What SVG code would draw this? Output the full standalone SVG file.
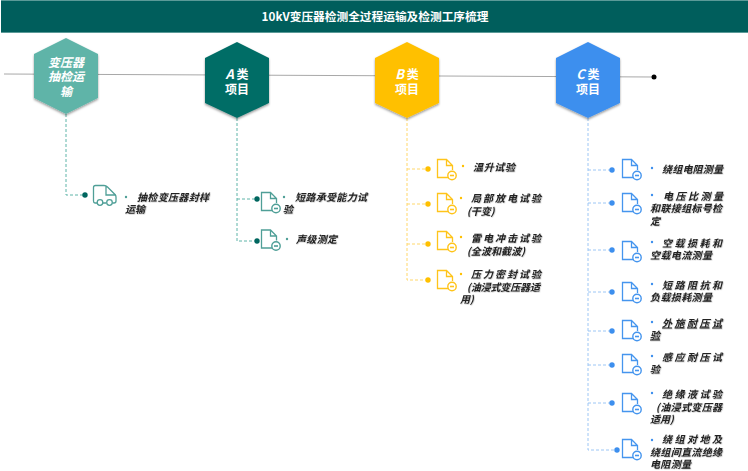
<svg xmlns="http://www.w3.org/2000/svg" width="748" height="471" viewBox="0 0 748 471">
<style>
text{font-family:"Noto Sans CJK SC","Noto Sans",sans-serif}
.t{font-size:10px;font-style:italic;font-weight:700;fill:#222;filter:url(#ts)}
.h{font-size:12px;font-weight:700;fill:#fff;text-anchor:middle}
.hi{font-style:italic}
.dash{fill:none;stroke-width:1;stroke-dasharray:3 2}
.icon{fill:none;stroke:currentColor;stroke-width:1.300}
</style>
<defs>
<filter id="sh" x="-20%" y="-20%" width="140%" height="140%"><feDropShadow dx="0" dy="1.500" stdDeviation="1.200" flood-color="#000" flood-opacity=".4"/></filter>
<filter id="ts" x="-5%" y="-20%" width="110%" height="150%"><feDropShadow dx="0.500" dy="0.500" stdDeviation="0.400" flood-color="#000" flood-opacity=".3"/></filter>
<g id="doc">
<path class="icon" d="M12 18.500H.5V.5H9.500L15.500 6.500V11M9.500 .5V6.500H15.500"/>
<circle cx="15" cy="16.500" r="4.200" fill="#fff" stroke="currentColor" stroke-width="1.400"/>
<path d="M13 16.500H17" stroke="currentColor" stroke-width="1.600"/>
</g>
</defs>
<rect width="748" height="471" fill="#fff"/>
<g id="header">
<rect x="1" y="0" width="747" height="33" fill="#005e5c"/>
<rect x="1" y="0" width="747" height="1" fill="#5b9a98"/>
<rect x="1" y="32" width="747" height="1" fill="#5b9a98"/>
<text x="375" y="21" text-anchor="middle" font-size="11.700" font-weight="700" fill="#fff">10kV变压器检测全过程运输及检测工序梳理</text>
</g>
<g id="connectors">
<path d="M4 74L654 77" fill="none" stroke="#a8a8a8" stroke-width="1"/>
<circle cx="654" cy="77" r="2.500" fill="#000"/>
<path class="dash" style="stroke:#5fb4a8" d="M66 114V195H85"/>
<path class="dash" style="stroke:#5fb4a8" d="M237 118V241H257M237 199H257"/>
<path class="dash" style="stroke:#ffd76a" d="M407 118V280H428M407 169H428M407 204H428M407 244H428"/>
<path class="dash" style="stroke:#9cc6f5" d="M588 118V450H617M588 170H612M588 203H612M588 250H612M588 292H612M588 331H612M588 365H612M588 403H612"/>
</g>
<g id="hex-transport">
<polygon points="66,38 98,54 98,98 66,114 34,98 34,54" fill="#5fb4a8" filter="url(#sh)"/>
<text class="h hi" x="66" y="66.500">变压器</text>
<text class="h hi" x="66" y="81">抽检运</text>
<text class="h hi" x="66" y="95.500">输</text>
</g>
<g id="hex-a">
<polygon points="237,42 269,58 269,103 237,118 205,103 205,58" fill="#006d66" filter="url(#sh)"/>
<text class="h" x="237" y="78.500"><tspan class="hi" font-size="13">A</tspan> 类</text>
<text class="h" x="237" y="93.500">项目</text>
</g>
<g id="hex-b">
<polygon points="407,42 439,58 439,103 407,118 375,103 375,58" fill="#ffc000" filter="url(#sh)"/>
<text class="h" x="407" y="78.500"><tspan class="hi" font-size="13">B</tspan> 类</text>
<text class="h" x="407" y="93.500">项目</text>
</g>
<g id="hex-c">
<polygon points="588,42 620,58 620,103 588,118 556,103 556,58" fill="#3d8fee" filter="url(#sh)"/>
<text class="h" x="588" y="78.500"><tspan class="hi" font-size="13">C</tspan> 类</text>
<text class="h" x="588" y="93.500">项目</text>
</g>
<g id="item-transport" style="color:#4f9f97">
<circle cx="85" cy="195" r="2.700" fill="#00665f"/>
<path class="icon" d="M97 203H95Q93.500 203 93.500 201V187.500Q93.500 185.500 95.500 185.500H104Q106 185.500 107.500 187L115 194.500Q116 195.500 116 197V201Q116 203 114 203H112.500M106 203H103M106 186V195H116"/>
<circle class="icon" cx="100" cy="202.500" r="2.800"/>
<circle class="icon" cx="109.500" cy="202.500" r="2.800"/>
<circle cx="126" cy="197" r="1.200" fill="#4f9f97"/>
<text class="t" x="137" y="200.500" textLength="72">抽检变压器封样</text>
<text class="t" x="125" y="212.500">运输</text>
</g>
<g id="item-a1" style="color:#4f9f97">
<circle cx="257" cy="199" r="2.700" fill="#00665f"/>
<use href="#doc" x="261" y="192"/>
<circle cx="284" cy="197" r="1.200" fill="#4f9f97"/>
<text class="t" x="295" y="200.500" textLength="72">短路承受能力试</text>
<text class="t" x="283" y="212.500">验</text>
</g>
<g id="item-a2" style="color:#4f9f97">
<circle cx="257" cy="241" r="2.700" fill="#00665f"/>
<use href="#doc" x="261" y="229.500"/>
<circle cx="287" cy="239" r="1.200" fill="#4f9f97"/>
<text class="t" x="296" y="242.500" textLength="41">声级测定</text>
</g>
<g id="item-b1" style="color:#ffc41a">
<circle cx="428" cy="169" r="2.700" fill="#ffc000"/>
<use href="#doc" x="437" y="159"/>
<circle cx="463" cy="166" r="1.200" fill="#ffc000"/>
<text class="t" x="473" y="170.500" textLength="42">温升试验</text>
</g>
<g id="item-b2" style="color:#ffc41a">
<circle cx="428" cy="204" r="2.700" fill="#ffc000"/>
<use href="#doc" x="437" y="193"/>
<circle cx="461" cy="198" r="1.200" fill="#ffc000"/>
<text class="t" x="471" y="201.500" textLength="70">局部放电试验</text>
<text class="t" x="467" y="214.500">(干变)</text>
</g>
<g id="item-b3" style="color:#ffc41a">
<circle cx="428" cy="244" r="2.700" fill="#ffc000"/>
<use href="#doc" x="437" y="231"/>
<circle cx="461" cy="237" r="1.200" fill="#ffc000"/>
<text class="t" x="471" y="241.500" textLength="70">雷电冲击试验</text>
<text class="t" x="467" y="254.500" textLength="58">(全波和截波)</text>
</g>
<g id="item-b4" style="color:#ffc41a">
<circle cx="428" cy="280" r="2.700" fill="#ffc000"/>
<use href="#doc" x="437" y="270"/>
<circle cx="461" cy="274" r="1.200" fill="#ffc000"/>
<text class="t" x="471" y="277.500" textLength="70">压力密封试验</text>
<text class="t" x="467" y="290.500" textLength="73">(油浸式变压器适</text>
<text class="t" x="460" y="302.500">用)</text>
</g>
<g id="item-c1" style="color:#4595ee">
<circle cx="612" cy="170" r="2.700" fill="#3d8fee"/>
<use href="#doc" x="622" y="159"/>
<circle cx="652" cy="168" r="1.200" fill="#3d8fee"/>
<text class="t" x="662" y="172.500" textLength="61">绕组电阻测量</text>
</g>
<g id="item-c2" style="color:#4595ee">
<circle cx="612" cy="203" r="2.700" fill="#3d8fee"/>
<use href="#doc" x="622" y="193"/>
<circle cx="652" cy="195" r="1.200" fill="#3d8fee"/>
<text class="t" x="663" y="199.500" textLength="60">电压比测量</text>
<text class="t" x="650" y="211.500" textLength="72">和联接组标号检</text>
<text class="t" x="650" y="224.500">定</text>
</g>
<g id="item-c3" style="color:#4595ee">
<circle cx="612" cy="250" r="2.700" fill="#3d8fee"/>
<use href="#doc" x="622" y="241"/>
<circle cx="652" cy="242" r="1.200" fill="#3d8fee"/>
<text class="t" x="662" y="246.500" textLength="60">空载损耗和</text>
<text class="t" x="650" y="258.500" textLength="62">空载电流测量</text>
</g>
<g id="item-c4" style="color:#4595ee">
<circle cx="612" cy="292" r="2.700" fill="#3d8fee"/>
<use href="#doc" x="622" y="282"/>
<circle cx="652" cy="284" r="1.200" fill="#3d8fee"/>
<text class="t" x="662" y="288.500" textLength="60">短路阻抗和</text>
<text class="t" x="650" y="300.500" textLength="62">负载损耗测量</text>
</g>
<g id="item-c5" style="color:#4595ee">
<circle cx="612" cy="331" r="2.700" fill="#3d8fee"/>
<use href="#doc" x="622" y="320"/>
<circle cx="652" cy="322" r="1.200" fill="#3d8fee"/>
<text class="t" x="662" y="326.500" textLength="60" text-decoration="underline">外施耐压试</text>
<text class="t" x="650" y="338.500" text-decoration="underline">验</text>
</g>
<g id="item-c6" style="color:#4595ee">
<circle cx="612" cy="365" r="2.700" fill="#3d8fee"/>
<use href="#doc" x="622" y="354"/>
<circle cx="652" cy="356" r="1.200" fill="#3d8fee"/>
<text class="t" x="662" y="360.500" textLength="60">感应耐压试</text>
<text class="t" x="650" y="372.500">验</text>
</g>
<g id="item-c7" style="color:#4595ee">
<circle cx="612" cy="403" r="2.700" fill="#3d8fee"/>
<use href="#doc" x="622" y="393"/>
<circle cx="652" cy="393" r="1.200" fill="#3d8fee"/>
<text class="t" x="662" y="397.500" textLength="60">绝缘液试验</text>
<text class="t" x="656" y="410.500" textLength="66">(油浸式变压器</text>
<text class="t" x="650" y="422.500">适用)</text>
</g>
<g id="item-c8" style="color:#4595ee">
<circle cx="617" cy="450" r="2.700" fill="#3d8fee"/>
<use href="#doc" x="622" y="439"/>
<circle cx="652" cy="440" r="1.200" fill="#3d8fee"/>
<text class="t" x="662" y="442.500" textLength="60">绕组对地及</text>
<text class="t" x="650" y="455.500" textLength="72">绕组间直流绝缘</text>
<text class="t" x="650" y="467.500" textLength="41">电阻测量</text>
</g>
</svg>
